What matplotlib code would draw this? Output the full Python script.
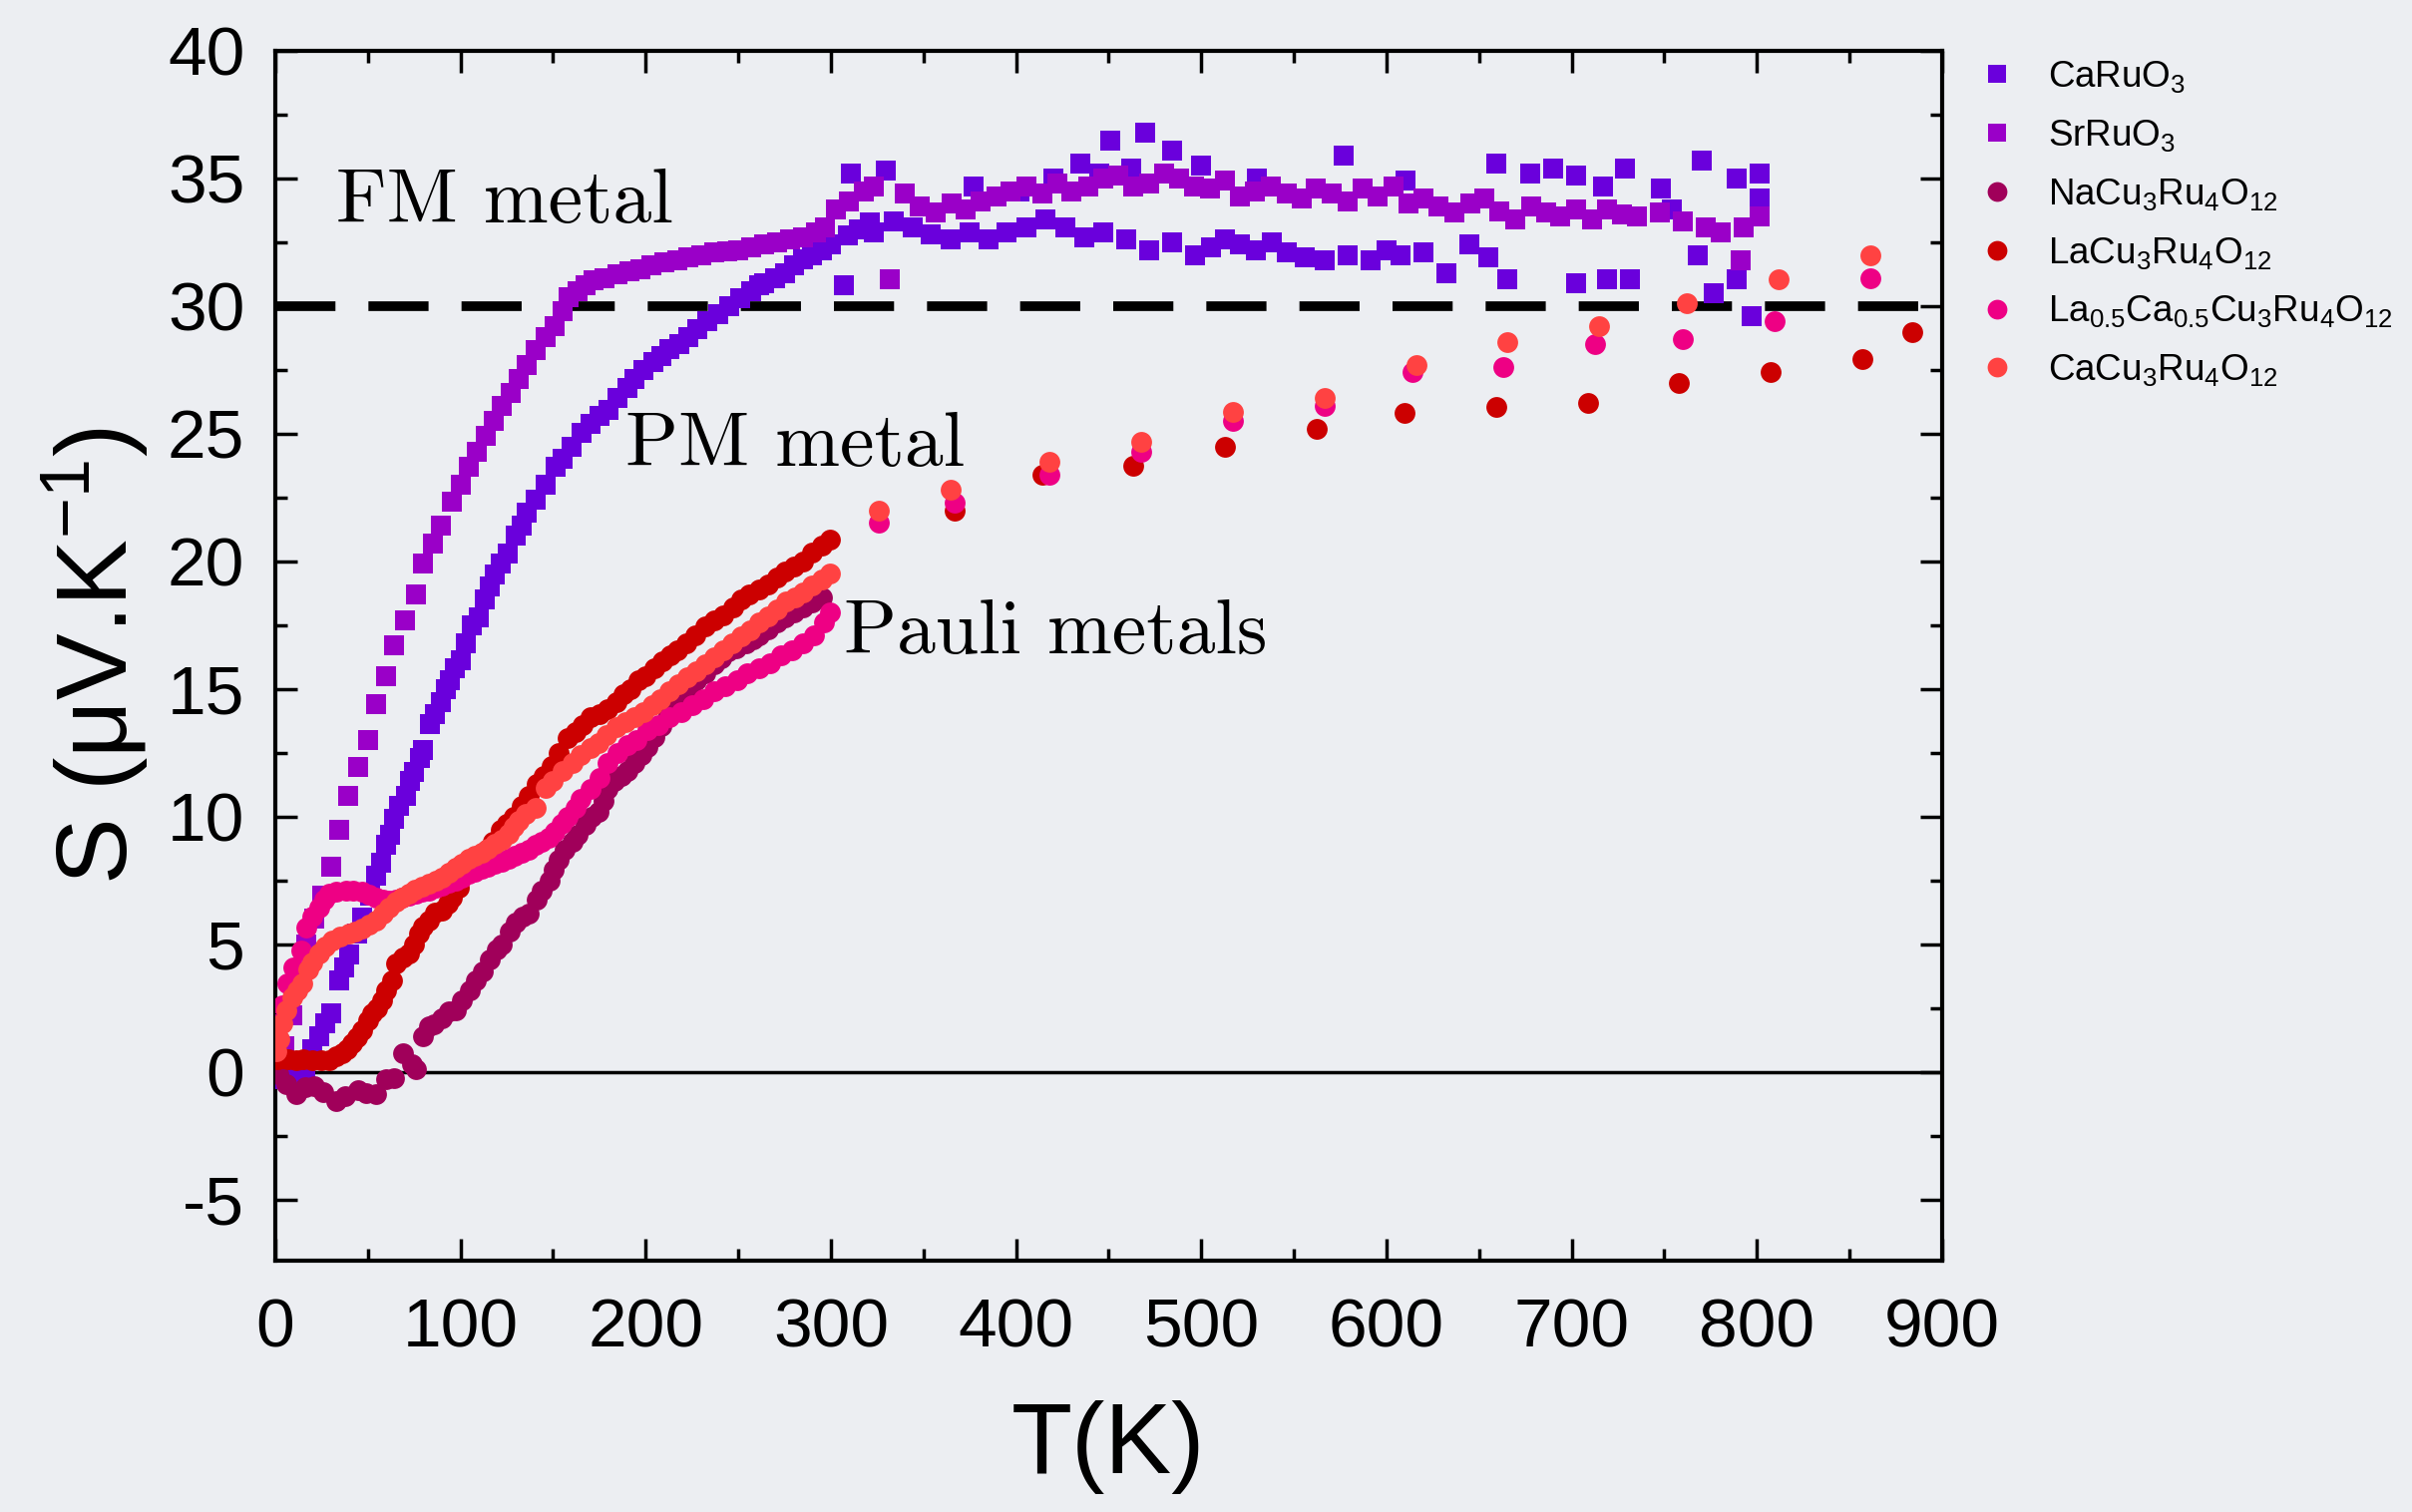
import matplotlib
matplotlib.use('Agg')
import matplotlib.pyplot as plt
from matplotlib.ticker import MultipleLocator

plt.rcParams['font.family'] = ['Liberation Sans', 'DejaVu Sans']
plt.rcParams['mathtext.fontset'] = 'custom'
plt.rcParams['mathtext.rm'] = 'Liberation Sans'
plt.rcParams['mathtext.it'] = 'Liberation Sans:italic'
plt.rcParams['mathtext.bf'] = 'Liberation Sans:bold'
plt.rcParams['axes.unicode_minus'] = False

# ---- data (T in K, S in uV/K) ----
caruo3_T = [3, 8, 12, 16, 20, 23.5, 27, 30, 34.5, 37, 40, 44, 47, 51, 54.5, 57, 60, 62, 64, 67, 70.4,
            73, 75, 78, 80, 83.3, 86, 89.2, 92, 94.1, 97, 100, 103, 106, 109.9, 113, 116, 118.8, 122,
            125.4, 129.6, 133, 136, 140.4, 145.8, 151.2, 155, 160, 165.5, 170, 175, 179.9, 185, 190,
            194.2, 199, 204, 208.6, 213, 218, 222.9, 228, 233, 239.1, 245, 251, 257, 261, 264.2, 270,
            275, 280, 285.2, 290, 295, 300, 307, 309.3, 315, 321.3,
            # scattered high-T band
            323, 334, 344, 354, 364.6, 375, 385, 395, 405.8, 416, 426.4, 437, 447, 459.4, 471.7, 484,
            496.4, 505, 513, 521, 529.4, 538, 546, 556, 566.5, 578.8, 591.2, 600, 607.7, 620, 632.4,
            644.8, 655, 665.3, 702.5, 719, 731.3, 768.3, 776.6, 789, 797.2,
            311, 329.6, 377, 402, 420, 434.6, 445, 451, 462, 469.7, 484, 500, 530, 576.8, 610, 659.2,
            677.7, 690, 702.5, 717, 729, 748, 754, 770.4, 789, 801.3, 801.3]
caruo3_S = [-0.3, -0.1, 0.0, 0.1, 0.9, 1.4, 1.9, 2.3, 3.6, 4.1, 4.6, 5.4, 6.06, 6.9, 7.7, 8.2, 8.9, 9.3,
            9.9, 10.4, 10.82, 11.4, 11.76, 12.3, 12.62, 13.63, 14.0, 14.5, 15.0, 15.33, 15.8, 16.14,
            16.8, 17.5, 17.79, 18.5, 19.0, 19.5, 19.9, 20.3, 21.0, 21.4, 21.9, 22.4, 23.0, 23.7, 24.0,
            24.5, 25.04, 25.4, 25.7, 25.94, 26.4, 26.8, 27.14, 27.5, 27.8, 28.04, 28.3, 28.5, 28.79,
            29.1, 29.4, 29.68, 30.0, 30.3, 30.58, 30.8, 30.88, 31.1, 31.3, 31.6, 31.84, 32.0, 32.2,
            32.4, 30.8, 32.75, 33.0, 33.27,
            32.9, 33.3, 33.1, 32.8, 32.6, 32.9, 32.6, 32.9, 33.1, 33.4, 33.1, 32.7, 32.9, 32.6, 32.2,
            32.5, 32.0, 32.3, 32.6, 32.4, 32.2, 32.5, 32.1, 31.9, 31.8, 32.0, 31.8, 32.2, 32.0, 32.1,
            31.3, 32.4, 31.9, 31.06, 30.9, 31.05, 31.05, 32.0, 30.5, 31.05, 29.6,
            35.2, 35.3, 34.7, 34.5, 35.0, 35.6, 35.2, 36.5, 35.4, 36.8, 36.1, 35.5, 35.0, 35.9, 34.9,
            35.6, 35.2, 35.4, 35.1, 34.7, 35.4, 34.6, 33.8, 35.7, 35.0, 35.2, 34.2]

srruo3_T = [5, 9, 13, 17, 21, 25.6, 30.4, 34.7, 39.6, 45, 50, 54.5, 60, 64, 70, 76, 80, 85, 89.5, 95.5,
            100, 104.5, 109, 113.5, 118, 122.4, 127, 131.4, 136, 140.4, 146, 151, 155, 158.3, 163,
            167.3, 172, 178, 185, 191, 197, 203, 210, 217, 223, 230, 237, 244, 250, 257, 264, 271, 278,
            285, 292, 297,
            302.8, 310, 318, 323.4, 331.6, 340, 348, 356.4, 365, 373, 381, 389.3, 397, 405.8, 414,
            422.3, 430, 438.8, 447, 455.2, 463, 471.7, 480, 488.2, 496, 504.7, 513, 521, 529, 537.6,
            546, 554, 562, 570.6, 579, 587, 595, 603.6, 612, 620, 628, 636.5, 645, 653, 661, 669.5,
            678, 686, 694, 702.5, 711, 719, 727, 735.4, 747.8, 760, 772.5, 780.7, 791, 793, 801.3]
srruo3_S = [1.0, 2.2, 3.6, 5.0, 6.0, 6.9, 8.05, 9.5, 10.8, 11.95, 13.0, 14.4, 15.5, 16.7, 17.7, 18.7,
            19.9, 20.7, 21.4, 22.35, 23.0, 23.7, 24.3, 24.9, 25.5, 26.1, 26.6, 27.15, 27.7, 28.26,
            28.8, 29.23, 29.8, 30.35, 30.6, 30.8, 31.0, 31.1, 31.25, 31.35, 31.45, 31.6, 31.7, 31.8,
            31.9, 32.0, 32.1, 32.15, 32.2, 32.3, 32.4, 32.5, 32.6, 32.7, 32.9, 33.1,
            33.8, 34.1, 34.5, 34.7, 31.05, 34.4, 33.9, 33.66, 34.0, 33.8, 34.1, 34.3, 34.5, 34.7, 34.4,
            34.8, 34.5, 34.7, 35.0, 35.1, 34.7, 34.8, 35.2, 35.0, 34.7, 34.6, 34.9, 34.3, 34.5, 34.7,
            34.4, 34.2, 34.6, 34.4, 34.1, 34.6, 34.3, 34.7, 34.0, 34.2, 33.9, 33.66, 34.0, 34.2, 33.7,
            33.4, 33.9, 33.66, 33.5, 33.8, 33.4, 33.8, 33.6, 33.5, 33.66, 33.3, 33.1, 32.9, 31.8,
            33.1, 33.5]

nacu_T = [1.6, 6, 11.2, 16, 20.8, 26, 32.8, 38, 44.9, 49, 54.4, 59.6, 64.1, 68.9, 74, 76.1, 79.7, 82.9,
          85.7, 90, 93.7, 97.7, 101, 105, 108.5, 112.2, 116, 119.4, 122.4, 126.6, 130, 133.8, 136.8,
          141, 144, 148.3, 150.5, 153, 156.5, 160.3, 163.5, 167.5, 171, 174.7, 177, 179.5, 183, 186.7,
          190, 193.9, 197.5, 201.1, 204.5, 208.3, 212, 216, 220.4, 224, 227.6, 232, 237.2, 241, 244.4,
          249, 254, 258, 261.2, 266, 270.8, 275, 280, 285, 290, 295]
nacu_S = [-0.1, -0.5, -0.88, -0.6, -0.55, -0.8, -1.15, -0.95, -0.72, -0.85, -0.88, -0.3, -0.23, 0.74,
          0.3, 0.09, 1.39, 1.8, 1.88, 2.1, 2.36, 2.4, 2.8, 3.2, 3.6, 3.95, 4.4, 4.79, 5.0, 5.5, 5.85,
          6.09, 6.2, 6.74, 7.1, 7.5, 7.9, 8.3, 8.7, 9.01, 9.3, 9.66, 10.0, 10.2, 10.6, 11.1, 11.4, 11.6,
          11.8, 12.1, 12.4, 12.73, 13.1, 13.55, 14.0, 14.4, 14.84, 15.1, 15.33, 15.6, 15.98, 16.2,
          16.46, 16.6, 16.79, 16.95, 17.11, 17.35, 17.6, 17.8, 18.0, 18.2, 18.4, 18.6]

lacu_T = [1, 4, 7, 11.1, 15, 20.1, 25, 29.1, 33, 36.3, 39, 41.6, 44, 47, 50, 52.4, 55, 57.8, 60, 63.2,
          65, 68.9, 72.2, 75, 77.5, 80, 82.9, 86, 90.1, 93, 95.5, 99, 102.5, 106, 110, 114, 117.5,
          121.8, 125, 129, 133, 137, 141, 145, 149, 153, 157.8, 162, 166, 170, 175, 179.5, 184, 188,
          192, 196.3, 200, 204.5, 209, 213.1, 217, 222, 227, 232.4, 237, 242, 247, 251.6, 256, 261,
          266, 270.8, 275, 280, 285, 290, 295, 299.7,
          366.7, 414, 463.5, 513, 562.4, 609.7, 659.2, 708.6, 758, 807.5, 857, 883.7]
lacu_S = [0.5, 0.55, 0.5, 0.45, 0.5, 0.46, 0.45, 0.46, 0.6, 0.72, 0.9, 1.11, 1.35, 1.63, 2.0, 2.28,
          2.5, 2.8, 3.2, 3.58, 4.23, 4.47, 4.62, 5.0, 5.4, 5.7, 5.93, 6.25, 6.32, 6.6, 6.84, 7.2, 7.87,
          8.1, 8.4, 8.7, 9.0, 9.49, 9.7, 10.0, 10.4, 10.8, 11.28, 11.6, 12.0, 12.5, 13.06, 13.3, 13.6,
          13.9, 14.0, 14.2, 14.5, 14.8, 15.0, 15.33, 15.5, 15.8, 16.1, 16.3, 16.5, 16.8, 17.1, 17.44,
          17.7, 17.9, 18.2, 18.49, 18.7, 18.9, 19.1, 19.38, 19.6, 19.8, 20.0, 20.35, 20.6, 20.84,
          22.0, 23.4, 23.76, 24.5, 25.2, 25.8, 26.04, 26.2, 27.0, 27.4, 27.93, 28.97]

lacacu_T = [1, 2.2, 4, 6.6, 10, 13.8, 16.5, 20, 23.7, 26.5, 29.1, 33, 38.1, 42, 47, 50.5, 54.2, 58,
            61.4, 65, 68.6, 72, 75.8, 79, 82.9, 86.5, 90.1, 93.5, 97.3, 101, 104.5, 108, 111.6, 115,
            118.8, 122.5, 126, 129.5, 133.2, 137, 140.4, 144, 147.5, 151, 154.7, 158, 161.9, 165, 170,
            175, 179.5, 185, 190, 195, 201.1, 207, 213, 219, 225.1, 231, 237, 243, 249.2, 255, 261,
            267, 273.2, 279, 285.2, 291, 296.1, 299.7,
            326, 366.7, 418, 467.6, 517, 566.5, 614, 663.3, 712.7, 760, 809.6, 861]
lacacu_S = [1.2, 1.89, 2.6, 3.45, 4.1, 4.75, 5.66, 6.1, 6.45, 6.75, 6.97, 7.05, 7.1, 7.1, 7.05, 6.95,
            6.84, 6.75, 6.71, 6.75, 6.84, 6.9, 6.97, 7.05, 7.1, 7.2, 7.3, 7.4, 7.49, 7.6, 7.75, 7.85,
            7.94, 8.05, 8.14, 8.25, 8.33, 8.45, 8.59, 8.7, 8.9, 9.0, 9.18, 9.4, 9.7, 10.0, 10.35, 10.7,
            11.1, 11.5, 12.09, 12.5, 12.8, 13.0, 13.38, 13.6, 13.9, 14.1, 14.36, 14.6, 14.9, 15.1,
            15.33, 15.6, 15.8, 16.0, 16.3, 16.5, 16.79, 17.1, 17.6, 18.0,
            21.5, 22.3, 23.4, 24.3, 25.5, 26.1, 27.4, 27.6, 28.5, 28.7, 29.4, 31.1]

cacu_T = [0.5, 2.2, 4, 5.8, 9, 12, 14.7, 18, 20, 23.7, 27, 30.9, 35, 39.8, 43, 47, 50.5, 54.2, 58, 61.4,
          65, 68.6, 72, 75.5, 79, 82.9, 86.5, 90.1, 93.5, 97.3, 101, 104.5, 108, 111.6, 115, 118.8,
          122.5, 126, 129, 131.4, 135, 140.4, 145.8, 150, 155, 160.3, 165, 170, 174.7, 179, 184,
          189.1, 194, 199, 203.5, 208, 213, 217.9, 222.5, 227.5, 232.4, 237, 242, 246.8, 251.5, 256.5,
          261.2, 266, 271, 275.7, 280.5, 285, 290, 295, 299.7,
          326, 364.6, 418, 467.6, 517, 566.5, 616, 665.3, 714.8, 762, 811.6, 861]
cacu_S = [0.8, 1.29, 1.9, 2.41, 2.9, 3.2, 3.45, 4.0, 4.3, 4.62, 4.9, 5.14, 5.3, 5.4, 5.5, 5.6, 5.75,
          5.93, 6.2, 6.45, 6.65, 6.84, 7.0, 7.15, 7.25, 7.36, 7.5, 7.62, 7.8, 8.0, 8.15, 8.33, 8.45,
          8.59, 8.75, 8.92, 9.1, 9.31, 9.6, 9.83, 10.1, 10.35, 11.11, 11.4, 11.8, 12.09, 12.4, 12.7,
          12.9, 13.2, 13.5, 13.71, 13.9, 14.1, 14.36, 14.6, 14.9, 15.17, 15.45, 15.7, 15.98, 16.25,
          16.5, 16.79, 17.05, 17.3, 17.6, 17.85, 18.1, 18.41, 18.6, 18.8, 19.06, 19.3, 19.54,
          22.0, 22.8, 23.9, 24.7, 25.85, 26.4, 27.7, 28.6, 29.2, 30.1, 31.06, 31.97]

series = [
    (caruo3_T, caruo3_S, 'CaRuO$_3$', '#6a00dc', 's', 14),
    (srruo3_T, srruo3_S, 'SrRuO$_3$', '#9a00c8', 's', 14),
    (nacu_T, nacu_S, 'NaCu$_3$Ru$_4$O$_{12}$', '#a0005a', 'o', 15),
    (lacu_T, lacu_S, 'LaCu$_3$Ru$_4$O$_{12}$', '#cc0000', 'o', 15),
    (lacacu_T, lacacu_S, 'La$_{0.5}$Ca$_{0.5}$Cu$_3$Ru$_4$O$_{12}$', '#ee0084', 'o', 15),
    (cacu_T, cacu_S, 'CaCu$_3$Ru$_4$O$_{12}$', '#ff4242', 'o', 15),
]

bg = '#eceef2'
fig = plt.figure(figsize=(24.18, 15.16), dpi=100, facecolor=bg)
ax = fig.add_axes([0.1141, 0.1662, 0.6911, 0.8002])
ax.set_facecolor('none')

ax.axhline(30, color='black', lw=7, ls=(0, (6.2, 3.4)), zorder=1.5)
ax.axhline(0, color='black', lw=2.5, zorder=1.5)

for T, S, lab, col, mk, size in series:
    ax.plot(T, S, ls='none', marker=mk, ms=size, color=col, mec=col, mew=0, label=lab, zorder=3)

ax.set_xlim(0, 900)
ax.set_ylim(-7.4, 40)
ax.xaxis.set_major_locator(MultipleLocator(100))
ax.xaxis.set_minor_locator(MultipleLocator(50))
ax.yaxis.set_major_locator(MultipleLocator(5))
ax.yaxis.set_minor_locator(MultipleLocator(2.5))
ax.tick_params(which='both', direction='in', top=True, right=True, width=2.5)
ax.tick_params(which='major', length=16)
ax.tick_params(which='minor', length=8.5)
ax.tick_params(axis='x', which='major', labelsize=50, pad=26)
ax.tick_params(axis='y', which='major', labelsize=50, pad=22)
for sp in ax.spines.values():
    sp.set_linewidth(3)

ax.set_xlabel('T(K)', fontsize=72)
ax.set_ylabel('S (μV.K$^{-1}$)', fontsize=72)
ax.xaxis.set_label_coords(0.5, -0.115)
ax.yaxis.set_label_coords(-0.075, 0.5)

ax.text(32.8, 33.28, 'FM metal', family='cmr10', fontsize=56, ha='left', va='baseline', zorder=4)
ax.text(189, 23.76, 'PM metal', family='cmr10', fontsize=56, ha='left', va='baseline', zorder=4)
ax.text(307, 16.38, 'Pauli metals', family='cmr10', fontsize=56, ha='left', va='baseline', zorder=4)

ax.legend(loc='upper left', bbox_to_anchor=(1950 / 2418, 1 - 26 / 1516),
          bbox_transform=fig.transFigure, frameon=False, fontsize=26.5,
          handlelength=1.0, handletextpad=0.9, labelspacing=0.62, borderpad=0.4,
          markerscale=0.95)

fig.savefig('out.png', dpi=100, facecolor=bg)
